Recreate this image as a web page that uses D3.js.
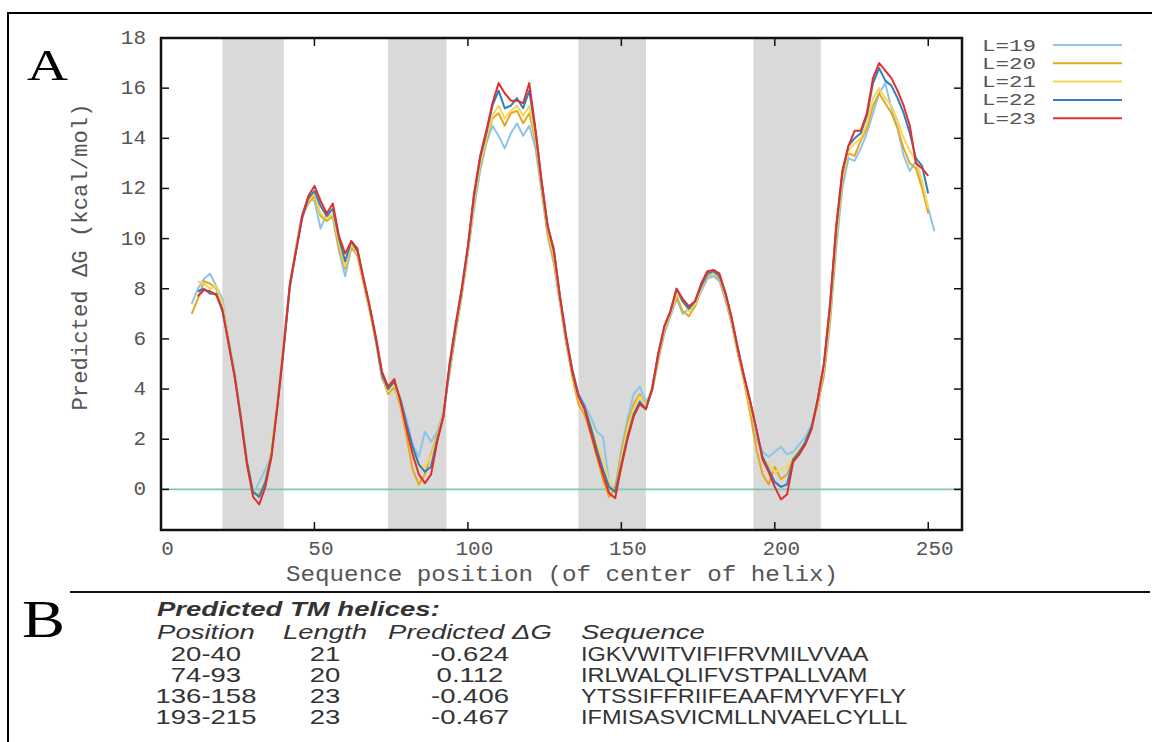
<!DOCTYPE html>
<html>
<head>
<meta charset="utf-8">
<script src="https://cdn.jsdelivr.net/npm/d3@7"></script>
<style>
  body { margin: 0; background: #fff; }
  .mono { font-family: "Liberation Mono", "DejaVu Sans Mono", monospace; fill: #555; }
  .tbl { font-family: "Liberation Sans", Arial, sans-serif; font-size: 21px; fill: #333; }
</style>
</head>
<body>
<script>
// ---- data ----
const seriesNames = ['L=19', 'L=20', 'L=21', 'L=22', 'L=23'];
const seriesColors = ['#8cc5ea', '#e4a824', '#f5d75a', '#2f7ebf', '#e0302c'];
const seriesStart = [10, 10, 12, 12, 12];
const posStep = 2;

const dgL19 = [7.4, 8.0, 8.4, 8.6, 8.1, 7.6, 6.0, 4.7, 3.0, 1.2, -0.2, 0.3, 0.8, 1.4, 3.5, 5.9, 8.2, 9.7, 11.0, 11.6,
  11.5, 10.4, 11.0, 10.8, 9.5, 8.5, 9.6, 9.4, 8.3, 7.2, 5.9, 4.4, 4.0, 4.0, 3.6, 2.8, 1.8, 1.3, 2.3, 1.9,
  2.3, 3.1, 4.6, 6.2, 7.7, 9.4, 11.2, 12.7, 13.8, 14.5, 14.1, 13.6, 14.2, 14.6, 14.1, 14.5, 13.6, 11.9, 10.1, 9.0,
  7.4, 5.8, 4.6, 3.8, 3.4, 2.9, 2.3, 2.1, 0.3, -0.1, 1.6, 2.8, 3.8, 4.1, 3.5, 3.9, 5.1, 6.2, 6.9, 7.6,
  7.0, 7.2, 7.3, 7.9, 8.4, 8.5, 8.3, 7.5, 6.6, 5.4, 4.3, 3.2, 2.0, 1.5, 1.3, 1.5, 1.7, 1.4, 1.5, 1.8,
  2.1, 2.6, 3.4, 4.5, 6.6, 9.6, 12.0, 13.2, 13.1, 13.6, 14.2, 15.0, 15.8, 16.2, 15.2, 14.4, 13.3, 12.7, 13.1, 12.2,
  11.2, 10.3];
const dgL20 = [7.0, 7.6, 8.3, 8.2, 8.0, 7.3, 5.9, 4.6, 2.9, 1.1, -0.1, -0.2, 0.3, 1.5, 3.5, 5.8, 8.1, 9.6, 10.9, 11.4,
  11.7, 10.9, 10.7, 10.9, 9.6, 8.8, 9.7, 9.3, 8.2, 7.1, 5.9, 4.5, 3.8, 4.1, 3.3, 2.1, 0.8, 0.2, 0.6, 1.4,
  2.2, 3.0, 4.7, 6.3, 7.8, 9.5, 11.4, 12.9, 13.9, 14.8, 15.0, 14.5, 15.0, 15.1, 14.6, 15.0, 13.9, 12.0, 10.2, 9.1,
  7.5, 5.9, 4.5, 3.4, 3.0, 2.2, 1.3, 0.4, -0.3, 0.1, 1.4, 2.6, 3.4, 3.8, 3.3, 3.9, 5.2, 6.3, 7.0, 7.7,
  7.1, 6.9, 7.3, 8.0, 8.5, 8.6, 8.4, 7.6, 6.6, 5.4, 4.3, 3.0, 1.6, 0.6, 0.2, 0.9, 0.4, 0.6, 1.2, 1.5,
  1.9, 2.5, 3.4, 4.6, 6.8, 9.9, 12.3, 13.4, 13.3, 13.9, 14.4, 15.3, 15.8, 15.4, 15.0, 14.4, 13.6, 13.0, 12.8, 12.0,
  11.0];
const dgL21 = [8.3, 8.2, 8.0, 8.1, 7.4, 6.0, 4.6, 3.0, 1.2, 0.0, -0.3, 0.4, 1.6, 3.6, 5.8, 8.0, 9.6, 10.9, 11.5,
  11.8, 11.0, 10.8, 11.0, 9.8, 8.9, 9.8, 9.4, 8.3, 7.2, 6.0, 4.6, 3.9, 4.2, 3.4, 2.3, 1.5, 1.0, 0.9, 1.3,
  2.1, 3.0, 4.8, 6.4, 7.9, 9.6, 11.5, 13.0, 14.0, 14.9, 15.3, 14.8, 15.1, 15.3, 14.9, 15.3, 14.1, 12.2, 10.4, 9.3,
  7.6, 6.0, 4.7, 3.6, 3.3, 2.6, 1.8, 1.2, 0.3, -0.2, 1.2, 2.4, 3.2, 3.7, 3.3, 4.0, 5.3, 6.4, 7.0, 7.8,
  7.5, 7.1, 7.4, 8.0, 8.6, 8.6, 8.5, 7.7, 6.7, 5.5, 4.4, 3.3, 2.3, 1.2, 1.0, 0.7, 0.8, 0.9, 1.3, 1.6,
  1.9, 2.5, 3.5, 4.8, 7.0, 10.1, 12.4, 13.5, 13.8, 14.0, 14.6, 15.6, 16.0, 15.6, 15.3, 14.7, 14.0, 13.5, 13.1, 12.3,
  11.2];
const dgL22 = [7.9, 8.0, 7.8, 7.8, 7.1, 5.9, 4.5, 2.9, 1.1, -0.1, -0.3, 0.3, 1.4, 3.4, 5.6, 8.1, 9.5, 10.8, 11.6,
  11.9, 11.3, 10.9, 11.2, 10.0, 9.1, 9.9, 9.5, 8.4, 7.3, 6.0, 4.6, 4.0, 4.3, 3.6, 2.6, 1.7, 1.0, 0.7, 0.9,
  2.0, 2.9, 4.9, 6.5, 8.0, 9.7, 11.7, 13.2, 14.2, 15.3, 15.9, 15.2, 15.3, 15.6, 15.2, 15.9, 14.3, 12.3, 10.5, 9.6,
  7.7, 6.1, 4.8, 3.8, 3.3, 2.5, 1.6, 0.8, 0.1, -0.1, 1.0, 2.1, 3.0, 3.5, 3.2, 4.0, 5.4, 6.5, 7.1, 8.0,
  7.5, 7.2, 7.5, 8.1, 8.6, 8.7, 8.5, 7.8, 6.8, 5.6, 4.5, 3.5, 2.4, 1.3, 0.8, 0.3, 0.1, 0.2, 1.2, 1.5,
  1.9, 2.5, 3.6, 5.0, 7.3, 10.4, 12.6, 13.7, 14.0, 14.2, 14.9, 16.2, 16.8, 16.3, 16.1, 15.6, 15.0, 14.2, 13.2, 12.9,
  11.8];
const dgL23 = [7.7, 7.95, 7.9, 7.75, 7.2, 5.8, 4.5, 2.8, 1.0, -0.3, -0.6, 0.1, 1.3, 3.4, 5.7, 8.2, 9.5, 10.9, 11.7,
  12.1, 11.5, 11.0, 11.4, 10.1, 9.4, 9.9, 9.6, 8.4, 7.3, 6.1, 4.7, 4.1, 4.4, 3.5, 2.4, 1.4, 0.6, 0.25, 0.6,
  1.9, 2.9, 5.0, 6.6, 8.0, 9.7, 11.8, 13.3, 14.3, 15.4, 16.2, 15.8, 15.5, 15.5, 15.4, 16.2, 14.4, 12.3, 10.5, 9.5,
  7.7, 6.1, 4.7, 3.7, 3.2, 2.3, 1.4, 0.6, -0.15, -0.35, 0.9, 2.0, 2.9, 3.4, 3.2, 4.0, 5.4, 6.5, 7.1, 8.0,
  7.6, 7.3, 7.5, 8.2, 8.7, 8.75, 8.6, 7.8, 6.8, 5.6, 4.5, 3.5, 2.4, 1.2, 0.7, 0.1, -0.4, -0.2, 1.1, 1.4,
  1.8, 2.4, 3.6, 5.0, 7.4, 10.5, 12.7, 13.7, 14.3, 14.3, 15.0, 16.4, 17.0, 16.7, 16.4, 15.9, 15.3, 14.5, 13.0, 12.8,
  12.5];
const seriesValues = [dgL19, dgL20, dgL21, dgL22, dgL23];

const xTicks = [0, 50, 100, 150, 200, 250];
const yTicks = [0, 2, 4, 6, 8, 10, 12, 14, 16, 18];

// predicted TM helices (also used for the grey bands)
const helixPos = ['20-40', '74-93', '136-158', '193-215'];
const helixLen = [21, 20, 23, 23];
const helixDG = ['-0.624', '0.112', '-0.406', '-0.467'];
const helixSeq = ['IGKVWITVIFIFRVMILVVAA', 'IRLWALQLIFVSTPALLVAM', 'YTSSIFFRIIFEAAFMYVFYFLY', 'IFMISASVICMLLNVAELCYLLL'];

// ---- layout ----
const W = 1152, H = 742;
const plot = {left: 161, right: 962, top: 38, bottom: 530};

const svg = d3.select('body').append('svg').attr('width', W).attr('height', H);

// stretch text horizontally (the source figure is a bit wider than its fonts)
function stretch(sel, k) {
  sel.each(function() {
    const w = this.getComputedTextLength();
    d3.select(this).attr('textLength', w * k).attr('lengthAdjust', 'spacingAndGlyphs');
  });
}

// outer frame
svg.append('path')
  .attr('d', `M8,${H} V13 H${W}`)
  .attr('fill', 'none').attr('stroke', '#000').attr('stroke-width', 2);

// panel letters
svg.append('text').text('A')
  .attr('x', 27).attr('y', 80)
  .style('font-family', '"Liberation Serif", serif').style('font-size', '44px')
  .attr('textLength', 41).attr('lengthAdjust', 'spacingAndGlyphs');
svg.append('text').text('B')
  .attr('x', 22).attr('y', 637)
  .style('font-family', '"Liberation Serif", serif').style('font-size', '52px')
  .attr('textLength', 43).attr('lengthAdjust', 'spacingAndGlyphs');

const x = d3.scaleLinear().domain([0, 261]).range([plot.left, plot.right]);
const y = d3.scaleLinear().domain([-1.62, 18]).range([plot.bottom, plot.top]);

// grey TM bands
const bands = helixPos.map(p => p.split('-').map(Number));
svg.append('g').selectAll('rect').data(bands).join('rect')
  .attr('x', d => x(d[0]))
  .attr('width', d => x(d[1]) - x(d[0]))
  .attr('y', plot.top)
  .attr('height', plot.bottom - plot.top)
  .attr('fill', '#d9d9d9');

// zero line
svg.append('line')
  .attr('x1', plot.left).attr('x2', plot.right)
  .attr('y1', y(0)).attr('y2', y(0))
  .attr('stroke', '#84c3ae').attr('stroke-width', 1.6);

// curves
const line = d3.line()
  .x(d => x(d.pos))
  .y(d => y(d.v));

const curves = seriesValues.map((vals, s) => vals.map((v, i) => ({pos: seriesStart[s] + i * posStep, v})));

svg.append('g').selectAll('path').data(curves).join('path')
  .attr('d', line)
  .attr('fill', 'none')
  .attr('stroke', (d, i) => seriesColors[i])
  .attr('stroke-width', 2)
  .attr('stroke-linejoin', 'round');

// axes (gnuplot style: inward ticks mirrored on all sides)
const tickLen = 8;
const axes = svg.append('g').attr('stroke', '#111').attr('stroke-width', 1.5);
axes.selectAll('.xb').data(xTicks).join('line')
  .attr('x1', d => x(d)).attr('x2', d => x(d))
  .attr('y1', plot.bottom).attr('y2', plot.bottom - tickLen);
axes.selectAll('.xt').data(xTicks).join('line')
  .attr('x1', d => x(d)).attr('x2', d => x(d))
  .attr('y1', plot.top).attr('y2', plot.top + tickLen);
axes.selectAll('.yl').data(yTicks).join('line')
  .attr('x1', plot.left).attr('x2', plot.left + tickLen)
  .attr('y1', d => y(d)).attr('y2', d => y(d));
axes.selectAll('.yr').data(yTicks).join('line')
  .attr('x1', plot.right).attr('x2', plot.right - tickLen)
  .attr('y1', d => y(d)).attr('y2', d => y(d));

svg.append('rect')
  .attr('x', plot.left).attr('y', plot.top)
  .attr('width', plot.right - plot.left).attr('height', plot.bottom - plot.top)
  .attr('fill', 'none').attr('stroke', '#111').attr('stroke-width', 2.5);

// tick labels
svg.append('g').selectAll('text').data(xTicks).join('text')
  .attr('class', 'mono')
  .attr('x', d => x(d) + 6.5).attr('y', 555)
  .attr('text-anchor', 'middle')
  .style('font-size', '21px')
  .text(d => d);

svg.append('g').selectAll('text').data(yTicks).join('text')
  .attr('class', 'mono')
  .attr('x', 146).attr('y', d => y(d) + 6)
  .attr('text-anchor', 'end')
  .style('font-size', '21px')
  .text(d => d);

// axis titles
svg.append('text').attr('class', 'mono')
  .attr('x', 562).attr('y', 581)
  .attr('text-anchor', 'middle')
  .style('font-size', '22px')
  .attr('textLength', 552).attr('lengthAdjust', 'spacingAndGlyphs')
  .text('Sequence position (of center of helix)');

svg.append('text').attr('class', 'mono')
  .attr('transform', 'translate(87,257) rotate(-90)')
  .attr('text-anchor', 'middle')
  .style('font-size', '22px')
  .attr('textLength', 307).attr('lengthAdjust', 'spacingAndGlyphs')
  .text('Predicted \u0394G (kcal/mol)');

// legend
const legend = svg.append('g').selectAll('g').data(seriesNames).join('g')
  .attr('transform', (d, i) => `translate(0, ${45 + i * 18.3})`);
legend.append('text').attr('class', 'mono')
  .attr('x', 982).attr('y', 5.5)
  .style('font-size', '16px')
  .attr('textLength', 54).attr('lengthAdjust', 'spacingAndGlyphs')
  .text(d => d);
legend.append('line')
  .attr('x1', 1053).attr('x2', 1122)
  .attr('stroke', (d, i) => seriesColors[i]).attr('stroke-width', 2);

// separator between panels
svg.append('line')
  .attr('x1', 70).attr('x2', 1150).attr('y1', 592).attr('y2', 592)
  .attr('stroke', '#111').attr('stroke-width', 2);

// panel B table
const tbl = svg.append('g').attr('class', 'tbl');
const k = 1.31;

tbl.append('text').text('Predicted TM helices:')
  .attr('x', 157).attr('y', 616)
  .style('font-weight', 'bold').style('font-style', 'italic')
  .call(stretch, k);

const cols = [
  {head: 'Position', x: 206, anchor: 'middle', vals: helixPos, k: k},
  {head: 'Length', x: 325, anchor: 'middle', vals: helixLen, k: k},
  {head: 'Predicted \u0394G', x: 470, anchor: 'middle', vals: helixDG, k: k},
  {head: 'Sequence', x: 581, anchor: 'start', vals: helixSeq, k: 1.12}
];
const headY = 639;
const rowY = [661, 682, 703, 724];

cols.forEach(c => {
  tbl.append('text').text(c.head)
    .attr('x', c.x).attr('y', headY)
    .attr('text-anchor', c.anchor)
    .style('font-style', 'italic')
    .call(stretch, k);
  tbl.selectAll(null).data(c.vals).join('text')
    .attr('x', c.x).attr('y', (d, i) => rowY[i])
    .attr('text-anchor', c.anchor)
    .text(d => d)
    .call(stretch, c.k);
});
</script>
</body>
</html>
